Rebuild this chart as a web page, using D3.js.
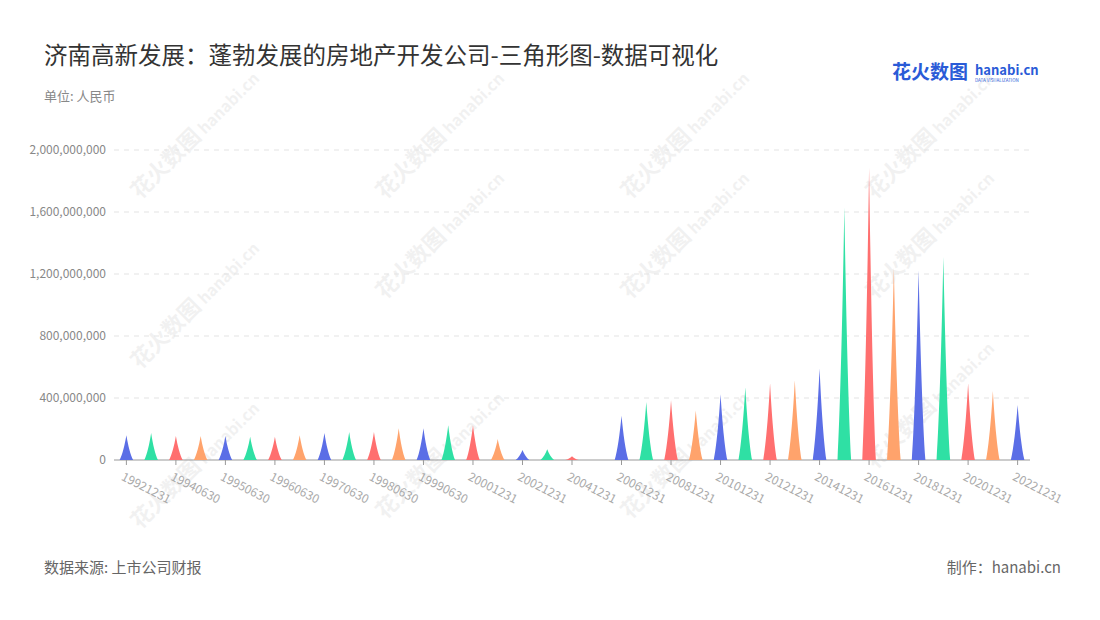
<!DOCTYPE html>
<html><head><meta charset="utf-8">
<script src="https://cdn.jsdelivr.net/npm/d3@7"></script>
<style>body{margin:0;background:#fff;font-family:"Noto Sans CJK SC","Noto Sans",sans-serif}</style>
</head><body><svg id="c" width="1100" height="620"></svg>
<script>
const categories=["19921231","19931231","19940630","19941231","19950630","19951231","19960630","19961231","19970630","19971231","19980630","19981231","19990630","19991231","20001231","20011231","20021231","20031231","20041231","20051231","20061231","20071231","20081231","20091231","20101231","20111231","20121231","20131231","20141231","20151231","20161231","20171231","20181231","20191231","20201231","20211231","20221231"];
const values=[160e6,175e6,155e6,155e6,155e6,150e6,150e6,160e6,175e6,180e6,180e6,205e6,205e6,225e6,225e6,135e6,65e6,70e6,25e6,0,285e6,375e6,385e6,320e6,425e6,470e6,495e6,515e6,590e6,1630e6,1885e6,1240e6,1225e6,1310e6,495e6,445e6,355e6];
const yTicks=[0,400e6,800e6,1200e6,1600e6,2000e6];
const colors=["#5b6ee6","#2fe0a4","#ff6f6f","#ffa36c"];
const svg=d3.select("#c");
const x=d3.scaleBand().domain(categories).range([114,1030]);
const y=d3.scaleLinear().domain([0,2000e6]).range([460,150]);
const wm=[[140,200],[385,200],[630,200],[875,200],[140,370],[385,300],[630,300],[875,300],[385,520],[630,520],[875,470],[140,530]];
wm.forEach(([a,b])=>{const g=svg.append("g").attr("transform",`translate(${a},${b}) rotate(-45)`).attr("opacity",0.05);
g.append("text").text("花火数图").attr("font-size",22).attr("font-weight","bold").attr("fill","#000");
g.append("text").text("hanabi.cn").attr("x",92).attr("font-size",16).attr("font-weight","bold").attr("fill","#000");});
svg.append("text").attr("x",44).attr("y",64).text("济南高新发展：蓬勃发展的房地产开发公司-三角形图-数据可视化").attr("font-size",23.5).attr("fill","#333");
svg.append("text").attr("x",44).attr("y",101).text("单位: 人民币").attr("font-size",13).attr("fill","#888");
svg.append("text").attr("x",44).attr("y",573).text("数据来源: 上市公司财报").attr("font-size",15).attr("fill","#666");
svg.append("text").attr("x",1061).attr("y",573).attr("text-anchor","end").text("制作：hanabi.cn").attr("font-size",15).attr("fill","#666");
svg.append("text").attr("x",892).attr("y",79).text("花火数图").attr("font-size",19).attr("font-weight","bold").attr("fill","#2a5bd7");
svg.append("text").attr("x",975).attr("y",75).text("hanabi.cn").attr("font-size",13).attr("font-weight","bold").attr("fill","#2a5bd7");
svg.append("text").attr("x",975).attr("y",82).text("DATA VISUALIZATION").attr("font-size",4.5).attr("fill","#2a5bd7");
yTicks.forEach(t=>{ if(t>0) svg.append("line").attr("x1",114).attr("x2",1030).attr("y1",y(t)).attr("y2",y(t)).attr("stroke","#e3e3e3").attr("stroke-dasharray","5,5");
 svg.append("text").attr("x",106).attr("y",y(t)+4).attr("text-anchor","end").text(d3.format(",")(t)).attr("font-size",12).attr("fill","#888");});
svg.append("line").attr("x1",114).attr("x2",1030).attr("y1",460).attr("y2",460).attr("stroke","#999");
categories.forEach((c,i)=>{ if(i%2===0){const cx=x(c)+x.bandwidth()/2;
 svg.append("line").attr("x1",cx).attr("x2",cx).attr("y1",460).attr("y2",465).attr("stroke","#999");
 svg.append("text").attr("transform",`translate(${cx-2},${472}) rotate(27)`).attr("dy","0.7em").text(c).attr("font-size",12).attr("fill","#aaa");}});
const bw=x.bandwidth()*0.55;
svg.selectAll("path.b").data(values).join("path").attr("fill",(d,i)=>colors[i%4])
 .attr("d",(d,i)=>{ if(d<=0) return ""; const cx=x(categories[i])+x.bandwidth()/2, b=y(0), t=y(d), h=b-t, l=cx-bw/2, r=cx+bw/2;
  return `M${l},${b} L${r},${b} C${cx+0.3*bw},${b-h*0.2} ${cx+0.12*bw},${b-h*0.6} ${cx},${t} C${cx-0.12*bw},${b-h*0.6} ${cx-0.3*bw},${b-h*0.2} ${l},${b}Z`;});
</script></body></html>
